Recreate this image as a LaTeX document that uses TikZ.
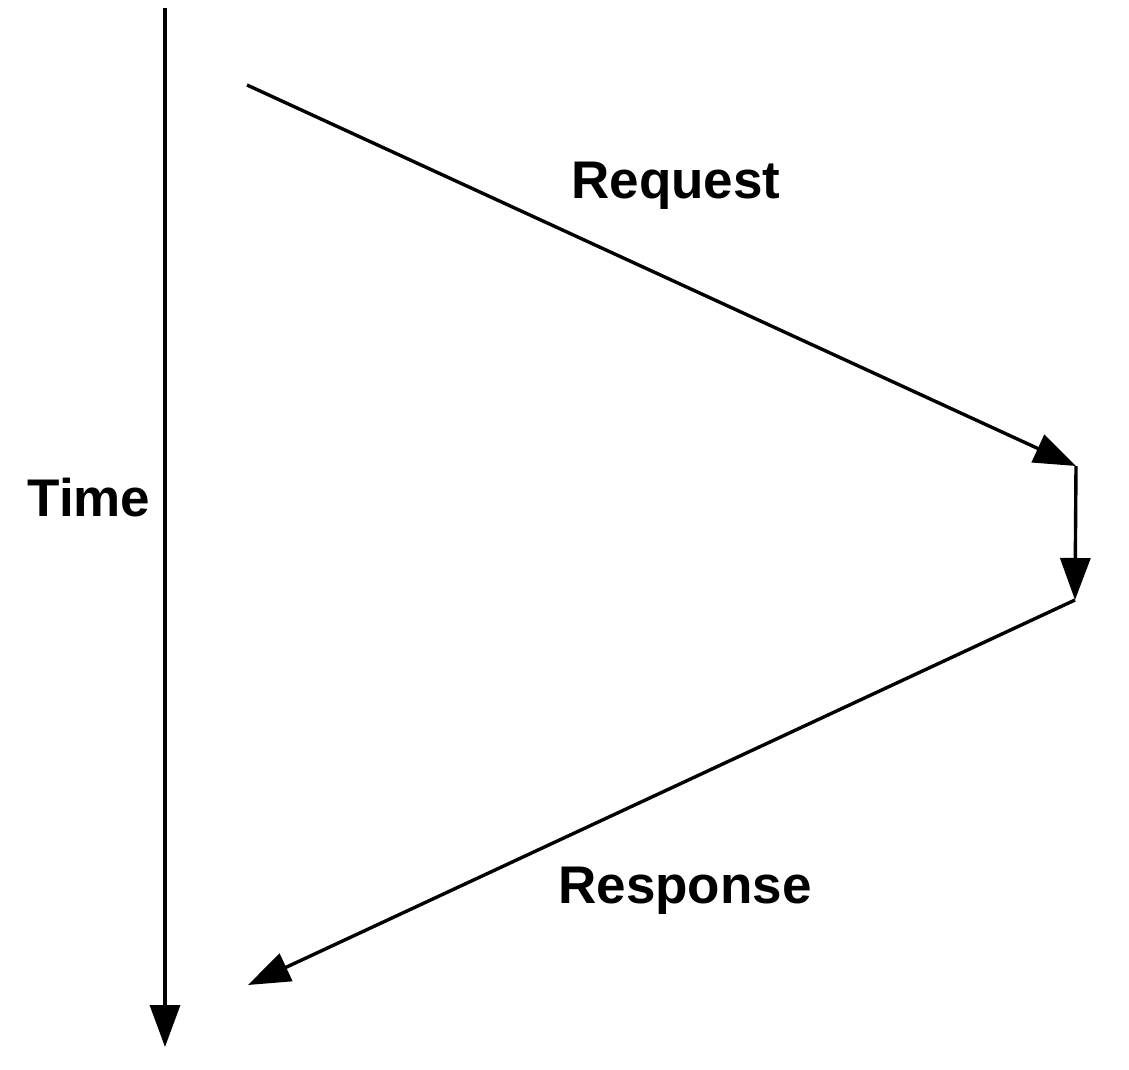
\documentclass[tikz,border=0pt]{standalone}
\usepackage{fontspec}
\setmainfont{Liberation Sans}
\usetikzlibrary{arrows.meta}
\usetikzlibrary{positioning}
\tikzset {
    msg/.style = {line width=1.7pt, -{Triangle[length=21pt, width=15pt]}},
    lbl/.style = {font=\bfseries\fontsize{26.5}{30}\selectfont, inner sep=0pt}
}

\begin{document}
\begin{tikzpicture}[x=0.5pt, y=-0.5pt]
	\useasboundingbox (0,0) rectangle (1129,1070);
	% time axis
	\coordinate (top) at (165,8);
	\coordinate (bottom) at (165,1047);
	\draw[msg] (top) -- (bottom);
	\node[lbl] (time) at (89,498) {Time};
	% request / response
	\coordinate (send) at (247,85);
	\coordinate (arrive) at (1076,466);
	\coordinate (done) at (1075,600);
	\coordinate (back) at (248,985);
	\draw[msg] (send) -- (arrive);
	\draw[msg] (arrive) -- (done);
	\draw[msg] (done) -- (back);
	\node[lbl] (request) at (676,186) {Request};
	\node[lbl] (response) at (685,891) {Response};
\end{tikzpicture}
\end{document}
